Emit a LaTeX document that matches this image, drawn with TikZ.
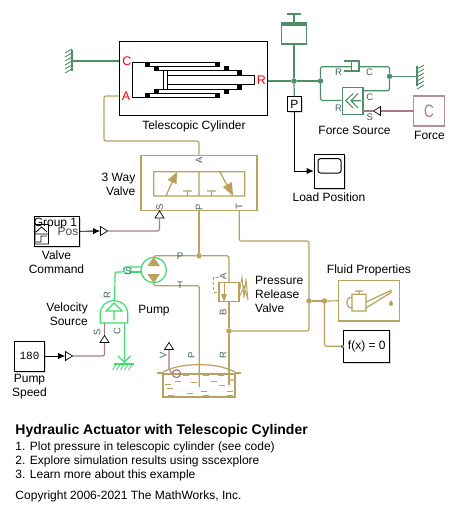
\documentclass[tikz,border=0pt]{standalone}
\usepackage{fontspec}
\setmainfont{Liberation Sans}
\setmonofont{Liberation Mono}
\usepackage{xcolor}
\usetikzlibrary{positioning,arrows.meta,calc,shapes.geometric,shadows}
\definecolor{hydtan}{HTML}{B9A25E}
\definecolor{mechgreen}{HTML}{4F8F68}
\definecolor{rotgreen}{HTML}{3BDD6B}
\definecolor{sigbrown}{HTML}{A97B80}
\definecolor{porttxt}{HTML}{3F5F66}

\begin{document}
\begin{tikzpicture}[x=1pt, y=-1pt,
    lbl/.style={font=\fontsize{12}{14}\selectfont, align=center, inner sep=0pt},
    redport/.style={font=\fontsize{12.5}{14}\selectfont, text=red, inner sep=0pt},
    port/.style={font=\fontsize{9.5}{10}\selectfont, text=porttxt, inner sep=0pt},
    vport/.style={port, rotate=90},
    block/.style={draw=black, fill=white, line width=1pt, inner sep=0pt, align=center},
    sblock/.style={block, drop shadow={shadow xshift=1.5pt, shadow yshift=-1.5pt, opacity=0.3}},
    hydbox/.style={draw=hydtan, line width=1.5pt, inner sep=0pt},
    hyd/.style={draw=hydtan, line width=1.2pt, rounded corners=2pt},
    mech/.style={draw=mechgreen, line width=1.2pt, rounded corners=2pt},
    rot/.style={draw=rotgreen, line width=1.2pt, rounded corners=2pt},
    sig/.style={draw=sigbrown, line width=1.2pt, rounded corners=2pt},
    arrow/.style={-{Latex[length=2.5mm,width=2.2mm]}, line width=0.9pt},
    dot/.style={circle, fill=#1, inner sep=0pt, minimum size=5.5pt},
    inport/.style={isosceles triangle, isosceles triangle apex angle=65, draw=black, fill=white,
                   line width=0.7pt, inner sep=0pt, minimum width=6.5pt, minimum height=7pt},
    seal/.style={fill=black, inner sep=0pt, minimum size=5pt}
]
\useasboundingbox (0,0) rectangle (456,514);

% main blocks
\node[block, minimum width=148.7pt, minimum height=74pt] (cyl) at (193.6,78) {};
\node[draw=mechgreen, line width=1.4pt, minimum width=25.5pt, minimum height=19pt, inner sep=0pt] (load) at (294,34.5) {};
\node[sblock, minimum width=14.5pt, minimum height=15.5pt, font=\fontsize{12}{14}\selectfont] (posP) at (294.3,104) {P};
\node[sblock, minimum width=30.4pt, minimum height=34pt] (scope) at (329.5,171) {};
\node[draw=mechgreen, fill=white, line width=1.2pt, minimum width=20.7pt, minimum height=27pt, inner sep=0pt] (fsrc) at (352.6,100.8) {};
\node[draw=sigbrown!85, line width=1.4pt, minimum width=30.6pt, minimum height=30pt, inner sep=0pt] (force) at (429,111) {};
\node[hydbox, minimum width=116pt, minimum height=55.4pt] (valve) at (199,183) {};
\node[sblock, minimum width=45.4pt, minimum height=30pt] (vcmd) at (57,231.3) {};
\node[draw=rotgreen, circle, line width=1.2pt, minimum size=25.4pt, inner sep=0pt] (pump) at (153.7,270) {};
\node[sblock, minimum width=30.4pt, minimum height=30pt, font=\ttfamily\fontsize{11}{12}\selectfont] (speed) at (29.5,356) {180};
\node[draw=hydtan, line width=1.3pt, minimum width=20pt, minimum height=19pt, inner sep=0pt] (relief) at (229,292.2) {};
\node[draw=hydtan, line width=1.2pt, minimum width=72pt, minimum height=23pt, inner sep=0pt] (tank) at (199,385.5) {};
\node[hydbox, minimum width=60.6pt, minimum height=40.3pt] (fluid) at (369,300.8) {};
\node[sblock, minimum width=45.7pt, minimum height=32pt, font=\fontsize{12}{14}\selectfont] (fx) at (366.8,346.3) {f(x) = 0};

% junctions and free ends
\node[dot=mechgreen] (jload) at (294,81) {};
\node[dot=mechgreen] (jsrcR) at (320.5,81) {};
\node[dot=mechgreen] (jsrcC) at (389.5,76.3) {};
\node[dot=hydtan] (jP) at (199,255.8) {};
\node[dot=hydtan] (jrel) at (229,331) {};
\node[dot=hydtan] (jT) at (309,301) {};
\node[dot=hydtan] (jfx) at (324.5,301) {};
\coordinate (wallL) at (72,61);
\coordinate (wallR) at (417,76.3);
\coordinate (cylA) at (119.3,96);
\coordinate (cylR) at (268,81);
\coordinate (massT) at (294,14);
\coordinate (dashR) at (351.7,66.7);
\coordinate (dashC) at (359,66.7);
\coordinate (srcR) at ($(fsrc.west)+(0,-0.4)$);
\node[inport, shape border rotate=180] (srcS) at (378,111) {};
\node[inport] (vcIn) at (103,231) {};
\node[inport, shape border rotate=90] (valveS) at (159.5,215.5) {};
\node[inport, shape border rotate=90] (vsS) at (104.5,340) {};
\node[inport] (spIn) at (68,356) {};
\node[inport, shape border rotate=90] (tankV) at (169,347) {};

% velocity source
\coordinate (vsrcL) at (100.3,323);
\coordinate (vsrcR) at (127.7,323);
\draw[rot, rounded corners=0pt] (vsrcL) -- (100.3,314) .. controls (100.3,306) and (106,300.7) .. (114,300.7)
      .. controls (122,300.7) and (127.7,306) .. (127.7,314) -- (vsrcR) -- cycle;
\draw[rot, rounded corners=0pt] (114,303) -- (106,311) -- (122,311) -- cycle (114,311) -- (114,320);

% connections
\draw[mech] (wallL) -- (wallL -| cyl.west);
\draw[hyd] (cylA) -- (104,96) -- (104,141) -- (199,141) -- (valve.north);
\draw[mech] (cylR) -- (jload) -- (jsrcR);
\draw[mech] (load.south) -- (jload);
\draw[mech] (jload) -- (posP.north);
\draw[mech] (massT) -- (load.north);
\draw[mech] (jsrcR) -- (320.5,66.7) -- (dashR);
\draw[mech] (dashC) -- (389.5,66.7) -- (jsrcC);
\draw[mech] (jsrcC) -- (wallR);
\draw[mech] (jsrcR) -- (320.5,100.4) -- (srcR);
\draw[mech] (363,90.8) -- (389.5,90.8) -- (jsrcC);
\draw[sig] (force.west) -- (srcS.lower side);
\draw[sig] (srcS.apex) -- (363,111);
\draw[arrow] (posP.south) |- (scope.west);
\draw[arrow] (vcmd.east) -- (vcIn.lower side);
\draw[sig] (vcIn.apex) -- (159.5,231) -- (valveS.lower side);
\draw[arrow] (speed.east) -- (spIn.lower side);
\draw[sig] (spIn.apex) -- (104.5,356) -- (vsS.lower side);
\draw[sig] (vsS.apex) -- (104.5,323);
\draw[hyd] (valve.south) -- (jP);
\draw[hyd] (239.3,210.7) -- (239.3,241) -- (309,241) -- (jT);
\draw[hyd] (153.7,261) -- (153.7,255.8) -- (jP);
\draw[hyd] (jP) -- (229,255.8) -- (229,282.7);
\draw[hyd] (229,301.7) -- (jrel);
\draw[hyd] (jrel) -- (229,385);
\draw[hyd] (jrel) -- (309,331) -- (jT);
\draw[hyd] (jT) -- (jfx);
\draw[hyd] (jfx) -- (fluid.west);
\draw[hyd] (jfx) -- (324.5,346.3) -- (fx.west);
\draw[hyd] (153.7,279) -- (153.7,285.7) -- (199.3,285.7) -- (199.3,387);
\draw[rot] (141,267) -- (124,267) -- (124,272) -- (115,272) -- (114.7,300.7);
\draw[rot] (130.7,267) -- (130.7,273.5) -- (124,273.5) -- (124,267);
\draw[rot] (130.7,272) -- (141,272);
\draw[rot] (124.3,323) -- (124.3,364);
\draw[sig] (tankV.lower side) -- (169,371) -- (172.5,372.5);

% telescopic cylinder icon
\draw[line width=1pt] (217,62) -- (132.3,62) -- (132.3,97.3) -- (217,97.3)
      (147,66) -- (217,66) (147,93.5) -- (217,93.5)
      (156,70.3) -- (240,70.3) (156,89.3) -- (240,89.3)
      (163.3,70.3) -- (163.3,89.3) (167.5,70.3) -- (167.5,89.3)
      (167.5,75.3) -- (254.5,75.3) -- (254.5,84.3) -- (167.5,84.3);
\foreach \sx/\sy in {147/64, 217/64, 156/68, 226/68, 239.5/72, 147/95.5, 217/95.5, 156/91, 226/91, 239.5/87}
    \node[seal] at (\sx,\sy) {};

% mass, damper, source and wall icons
\draw[mechgreen, line width=1.2pt] (287,14) -- (301,14) (281,23) -- (307,23);
\draw[mechgreen, line width=1.2pt] (344,61) -- (359,61) -- (359,71) -- (344,71) (351.7,61) -- (351.7,71);
\draw[mechgreen, line width=1.1pt] (353,93.5) -- (346,100.7) -- (353,108) (358,93.5) -- (351,100.7) -- (358,108) (351,100.7) -- (361,100.7);
\draw[mechgreen, line width=1.4pt] (72,50) -- (72,71) (417,66) -- (417,86);
\foreach \hy in {50,54,...,70}
    \draw[mechgreen, line width=0.9pt] (65,\hy+3) -- (72,\hy-1);
\foreach \hy in {66,70,...,86}
    \draw[mechgreen, line width=0.9pt] (417,\hy+3) -- (424,\hy-1);
\draw[rounded corners=2.5pt, line width=1pt] (318,158.7) rectangle (341,173);
\node[text=sigbrown, font=\fontsize{18}{18}\selectfont, inner sep=0pt, xscale=0.75] (forceC) at (429,111) {C};

% valve icon
\draw[draw=hydtan, line width=1.3pt] (153.7,171.7) rectangle (244.7,196) (199,171.7) -- (199,196)
      (183,191) -- (192,191) (187.5,191) -- (187.5,196) (207,191) -- (216,191) (211.5,191) -- (211.5,196)
      (166,196) -- (174,178) (220,172) -- (228,187);
\fill[hydtan] (177,172) -- (167.5,180) -- (176.5,184) -- cycle (233,196) -- (223,187) -- (232,182) -- cycle;

% pump icons
\fill[hydtan] (153.7,257) -- (160,266) -- (147.4,266) -- cycle (153.7,283) -- (160,274) -- (147.4,274) -- cycle;
\draw[rot, rounded corners=0pt] (114,364) -- (134,364);
\draw[rot, rounded corners=0pt] (118,356) -- (124.3,362) -- (130.5,356);
\foreach \hx in {116,120,...,132}
    \draw[rotgreen, line width=0.8pt] (\hx,364.5) -- (\hx-3.5,370);

% relief valve icon
\draw[hydtan, line width=1pt, densely dashed] (219,277.5) -- (213.7,277.5) -- (213.7,292) -- (219,292);
\draw[hydtan, line width=1pt] (224,283) -- (224,296);
\fill[hydtan] (224,302) -- (221,294) -- (227,294) -- cycle;
\draw[hydtan, line width=0.9pt] (239,294) -- (242,277) -- (244,298) -- (246,279) -- (248,300) -- (244,286) -- (239,298);

% tank icon
\draw[hydtan, line width=1.2pt] (163,372) .. controls (175,366) and (187,364.7) .. (199,364.7) .. controls (211,364.7) and (223,366) .. (235,372)
      (229,380) -- (235,380);
\draw[hydtan, line width=2pt] (157,372.5) -- (163,372.5) (235,372.5) -- (241,372.5);
\draw[hydtan, line width=1.1pt] (164,374) -- (234,374);
\foreach \dx/\dy in {186/375, 206/375, 221/375, 168/384, 178/381, 194/382, 214/381, 222/385, 170/388, 190/393, 204/391, 230/391, 171/395, 206/395, 230/395}
    \draw[hydtan, line width=1pt] (\dx-3,\dy) -- (\dx+3,\dy);
\draw[sigbrown, line width=1.2pt] (176.5,373.7) circle (4);

% oil can
\draw[hydtan, line width=1.2pt] (352,294.3) rectangle (366,311) (352,297) .. controls (345,297) and (345,308) .. (352,308)
      (355,291) -- (363,291) (359,291) -- (359,294.3)
      (366,302) -- (391,290.5) -- (391,292.5) -- (366,308);
\fill[hydtan] (391,300) .. controls (392,302) and (393,303) .. (393,304) .. controls (393,306.5) and (389,306.5) .. (389,304) .. controls (389,303) and (390,302) .. (391,300) -- cycle;
\node[fill=gray, inner sep=0pt, minimum size=3pt] (fxport) at (342.6,346.3) {};

% valve command icon
\draw[line width=0.8pt] (35,224.5) rectangle (48.5,244)
      (35,234) -- (48.5,234) (36,232) -- (41.5,227) -- (47,232)
      (36,242) -- (41,242) -- (41,236) -- (47,236);
\node[lbl] (grp) at (55.5,224) {Group 1};
\node[lbl, text=black!70] (pos) at (68,231.5) {Pos};

% port letters
\node[redport] (lC) at (127,61) {C};
\node[redport] (lA) at (126,96.5) {A};
\node[redport] (lR) at (261.5,80.5) {R};
\node[port] (fR1) at (338.5,72.5) {R};
\node[port] (fC1) at (369.5,72.5) {C};
\node[port] (fC2) at (369.7,97) {C};
\node[port] (fR2) at (338.5,108) {R};
\node[port] (fS) at (369.7,117.5) {S};
\node[vport] (vA) at (199,160.5) {A};
\node[vport] (vS) at (159.5,207) {S};
\node[vport] (vP) at (199,207) {P};
\node[vport] (vT) at (239,207) {T};
\node[port] (pP) at (180,256.3) {P};
\node[port] (pT) at (180,285) {T};
\node[port] (pS) at (128.3,271) {S};
\node[vport] (sR) at (107,295) {R};
\node[vport] (sS) at (97,332) {S};
\node[vport] (sC) at (117,331) {C};
\node[vport] (rA) at (223,276) {A};
\node[vport] (rB) at (223,312) {B};
\node[vport] (tV) at (163,355) {V};
\node[vport] (tP) at (191.7,355) {P};
\node[vport] (tR) at (223,355) {R};

% block names
\node[lbl] (lCyl) at (194,126) {Telescopic Cylinder};
\node[lbl] (lFsrc) at (354.5,130.5) {Force Source};
\node[lbl] (lForce) at (429.5,135.5) {Force};
\node[lbl] (lScope) at (329,197.5) {Load Position};
\node[lbl, align=right, anchor=east] (lValve) at (135.5,184) {3 Way\\Valve};
\node[lbl] (lVcmd) at (56.5,262.5) {Valve\\Command};
\node[lbl, align=right, anchor=east] (lVsrc) at (88,314) {Velocity\\Source};
\node[lbl] (lPump) at (154,310.5) {Pump};
\node[lbl] (lSpeed) at (29.5,387) {Pump\\Speed};
\node[lbl, align=left, anchor=west] (lRelief) at (255,294) {Pressure\\Release\\Valve};
\node[lbl] (lFluid) at (369,270.5) {Fluid Properties};

% caption
\node[lbl, anchor=base west, font=\bfseries\fontsize{14}{16}\selectfont] (title) at (15.3,434.5) {Hydraulic Actuator with Telescopic Cylinder};
\node[lbl, anchor=base west] (cap1) at (15.3,450) {1. Plot pressure in telescopic cylinder (see code)};
\node[lbl, anchor=base west] (cap2) at (15.3,464) {2. Explore simulation results using sscexplore};
\node[lbl, anchor=base west] (cap3) at (15.3,478) {3. Learn more about this example};
\node[lbl, anchor=base west] (copy) at (15.3,499) {Copyright 2006-2021 The MathWorks, Inc.};

\end{tikzpicture}
\end{document}
